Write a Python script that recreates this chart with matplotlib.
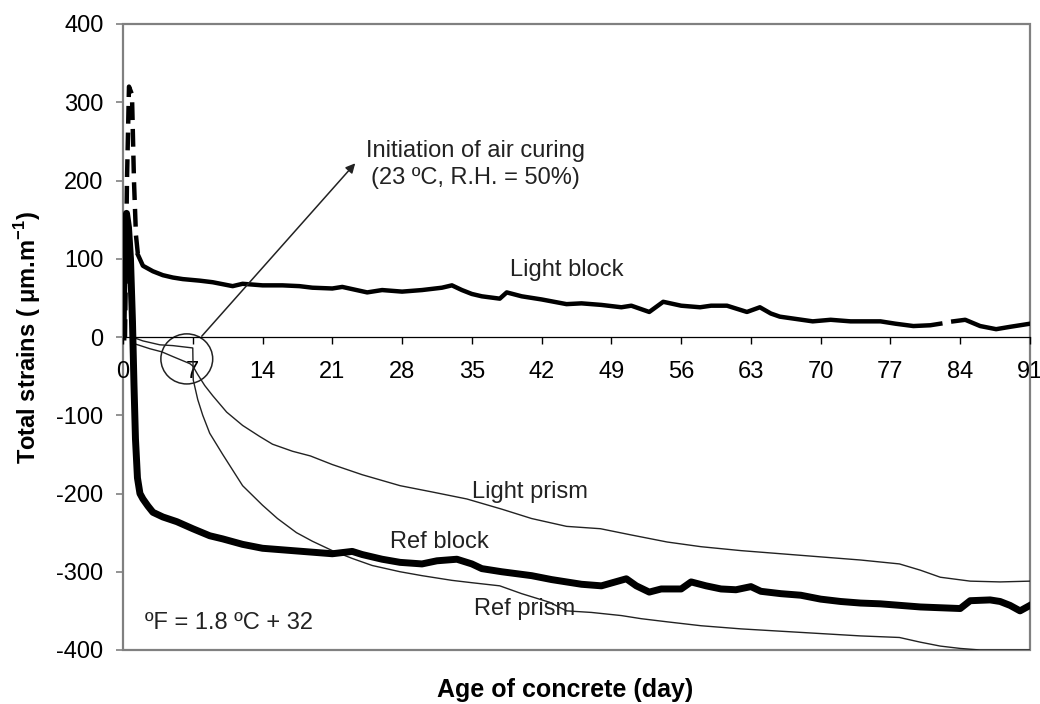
import numpy as np
import matplotlib.pyplot as plt
from matplotlib.patches import Ellipse, Rectangle

plt.rcParams['font.family'] = ['Liberation Sans', 'DejaVu Sans']
plt.rcParams['mathtext.fontset'] = 'custom'
plt.rcParams['mathtext.rm'] = 'Liberation Sans'
plt.rcParams['mathtext.bf'] = 'Liberation Sans:bold'
plt.rcParams['axes.unicode_minus'] = False

# light block: dashed early spike, then the long record (NaN = gap in record)
lb_spike_day = [0.2, 0.4, 0.6, 0.9, 1.1, 1.3, 1.5]
lb_spike_val = [0, 200, 320, 310, 200, 130, 105]
lb_day = [1.5, 2, 3, 4, 5, 6, 7.7, 9, 11, 12, 14, 16, 17.7, 19, 21, 22, 24.5, 26, 28,
          30, 32, 33, 34, 35, 36, 37.8, 38.5, 40, 42, 44.5, 46, 48, 50, 51, 52.8, 54.2,
          56, 57.9, 59, 60.6, 62.6, 63.9, 65, 65.9, 67, 69.2, 71, 73, 76, 77.5, 79.3,
          81, 82, 82.5, 83.3, 84.5, 86, 87.6, 89, 91]
lb_val = [105, 91, 84, 79, 76, 74, 72, 70, 65, 68, 66, 66, 65, 63, 62, 64, 57, 60, 58,
          60, 63, 66, 60, 55, 52, 49, 57, 52, 48, 42, 43, 41, 38, 40, 32, 45,
          40, 38, 40, 40, 32, 38, 30, 26, 24, 20, 22, 20, 20, 17, 14,
          15, 17, np.nan, 20, 22, 14, 10, 13, 17]

rb_day = [0, 0.15, 0.35, 0.55, 0.75, 0.95, 1.1, 1.25, 1.45, 1.7, 2, 2.5, 3, 4, 5.4, 7,
          8.7, 10, 12, 14, 16, 18, 20, 21, 23, 24, 26, 27.8, 30, 31.5, 33.5, 35, 36,
          38, 41, 43, 44.5, 46, 48, 50.5, 51.5, 52.8, 54, 56, 57, 58.5, 60, 61.5, 63,
          64, 66, 68, 70, 72, 74, 76, 78, 80, 82, 84, 85, 87, 88, 89, 90, 91]
rb_val = [0, 120, 158, 140, 100, 20, -60, -130, -180, -200, -207, -216, -224, -230,
          -236, -245, -254, -258, -265, -270, -272, -274, -276, -277, -274, -278, -284,
          -288, -290, -286, -284, -290, -296, -300, -305, -310, -313, -316, -318, -309,
          -318, -326, -322, -322, -313, -318, -322, -323, -319, -325, -328, -330, -335,
          -338, -340, -341, -343, -345, -346, -347, -337, -336, -338, -343, -350, -343]

rp_day = [0.9, 2, 3.7, 5, 7.0, 7.05, 7.5, 8.0, 8.7, 10, 12, 14, 15.5, 17.4, 19, 21, 23,
          25, 27.8, 30, 33, 35, 37.8, 40, 42.8, 44.5, 47, 50, 52, 54.6, 58, 62, 66, 70,
          74, 77.9, 80, 82, 84, 86, 91]
rp_val = [0, -5, -10, -11, -14, -55, -80, -100, -123, -150, -190, -215, -232, -250,
          -261, -273, -283, -292, -300, -305, -311, -314, -318, -328, -339, -350, -352,
          -356, -360, -364, -369, -373, -376, -379, -382, -384, -390, -395, -398, -400,
          -400]

lp_day = [1.0, 2.7, 3.9, 5, 6.7, 7.0, 7.5, 8.2, 9, 10.4, 12, 13.7, 15, 17, 18.8, 21, 24,
          27.8, 31, 34.5, 38, 41, 44.5, 47.9, 51, 54.6, 58, 62, 66, 70, 74, 77.9, 80, 82,
          85, 88, 91]
lp_val = [-8, -15, -19, -25, -34, -37, -48, -62, -75, -96, -113, -127, -137, -146,
          -152, -163, -176, -190, -198, -207, -220, -232, -242, -245, -253, -262, -268,
          -273, -277, -281, -285, -290, -298, -307, -312, -313, -312]

x_ticks = list(range(0, 92, 7))
y_ticks = list(range(-400, 401, 100))

fig = plt.figure(figsize=(10.4, 7.04), dpi=100)
ax = fig.add_axes([123 / 1040, 1 - 650 / 704, 907 / 1040, 626 / 704])

ax.plot(lp_day, lp_val, color='#222222', lw=1.0)
ax.plot(rp_day, rp_val, color='#222222', lw=1.0)
ax.plot(rb_day, rb_val, color='black', lw=5.0, solid_joinstyle='round')
ax.plot(lb_day, lb_val, color='black', lw=3.2)
ax.plot(lb_spike_day, lb_spike_val, color='black', lw=3.2, ls=(0, (4, 2)))

ax.set_xlim(0, 91)
ax.set_ylim(-400, 400)

# frame in grey, x axis drawn through zero
for s in ['left', 'right', 'top']:
    ax.spines[s].set_visible(False)
ax.spines['bottom'].set_position(('data', 0))
ax.spines['bottom'].set_color('black')
ax.spines['bottom'].set_linewidth(0.9)
ax.add_patch(Rectangle((0, 0), 1, 1, transform=ax.transAxes, fill=False,
                       edgecolor='#808080', lw=1.6, clip_on=False, zorder=0.5))

ax.set_xticks(x_ticks)
ax.set_yticks(y_ticks)
ax.tick_params(axis='x', direction='out', length=5, width=1, color='black',
               labelsize=17, pad=12)
ax.tick_params(axis='y', direction='out', length=5, width=1.2, color='#808080',
               labelsize=17, pad=9)

ax.set_ylabel(r'Total strains ( μm.m$^{\mathbf{-1}}$)', fontsize=17, fontweight='bold')
ax.yaxis.set_label_coords(-0.088, 0.5)
ax.set_xlabel('Age of concrete (day)', fontsize=18, fontweight='bold')
ax.xaxis.set_label_coords(0.487, -0.044)

ax.add_patch(Ellipse((6.4, -28), 5.2, 64, fill=False, edgecolor='#222222', lw=1.1))
ax.annotate('', xy=(23.3, 222), xytext=(7.9, 1),
            arrowprops=dict(arrowstyle='-|>', color='#222222', lw=1.1,
                            mutation_scale=14, shrinkA=0, shrinkB=0))
ax.text(35.4, 220, 'Initiation of air curing\n(23 ºC, R.H. = 50%)', ha='center',
        va='center', fontsize=17, color='#222222', linespacing=1.3)

ax.text(44.5, 86, 'Light block', ha='center', va='center', fontsize=17, color='#222222')
ax.text(40.8, -198, 'Light prism', ha='center', va='center', fontsize=17, color='#222222')
ax.text(31.7, -262, 'Ref block', ha='center', va='center', fontsize=17, color='#222222')
ax.text(40.3, -348, 'Ref prism', ha='center', va='center', fontsize=17, color='#222222')
ax.text(2.2, -365, 'ºF = 1.8 ºC + 32', ha='left', va='center', fontsize=17,
        color='#222222')

fig.savefig('out.png', dpi=100)
